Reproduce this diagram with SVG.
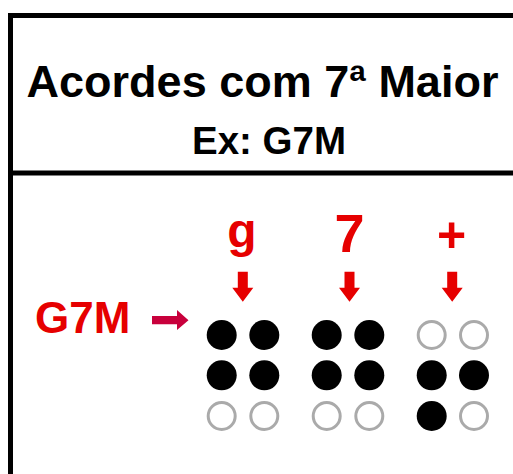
<svg xmlns="http://www.w3.org/2000/svg" width="513" height="474" viewBox="0 0 513 474">
  <defs>
    <style>
      .frame { stroke: #000; stroke-width: 5; fill: none; }
      .title { font-family: "Liberation Sans", Arial, sans-serif; font-weight: bold; fill: #000; }
      .red { font-family: "Liberation Sans", Arial, sans-serif; font-weight: bold; fill: #e60000; }
      .on { fill: #000; }
      .off { fill: #fff; stroke: #aaaaaa; stroke-width: 3; }
      .down { fill: #e60000; }
    </style>
    <g id="downArrow">
      <polygon points="-5,0 5,0 5,16 10.5,16 0,30 -10.5,16 -5,16"/>
    </g>
  </defs>

  <rect x="0" y="0" width="513" height="474" fill="#fff"/>

  <g id="frame">
    <line class="frame" x1="10.5" y1="13" x2="10.5" y2="474"/>
    <line class="frame" x1="8" y1="15.5" x2="513" y2="15.5"/>
    <line class="frame" x1="8" y1="173" x2="513" y2="173"/>
  </g>

  <g id="header">
    <text class="title" x="262.5" y="97" font-size="45" text-anchor="middle">Acordes com 7ª Maior</text>
    <text class="title" x="269" y="154" font-size="38.5" text-anchor="middle">Ex: G7M</text>
  </g>

  <g id="chord-label">
    <text class="red" x="35" y="333" font-size="44">G7M</text>
  </g>

  <g id="labels">
    <text class="red" x="242" y="247" font-size="48" text-anchor="middle">g</text>
    <text class="red" x="349.5" y="251.5" font-size="54" text-anchor="middle">7</text>
    <text class="red" x="451.7" y="252" font-size="50" text-anchor="middle">+</text>
  </g>

  <g id="connectors">
    <polygon fill="#c8003c" points="152,316 177,316 177,310 188.5,320.2 177,330 177,324.3 152,324.3"/>
    <use href="#downArrow" class="down" x="242.8" y="271.7"/>
    <use href="#downArrow" class="down" x="349.5" y="271.7"/>
    <use href="#downArrow" class="down" x="452.2" y="271.7"/>
  </g>

  <g id="cell-g">
    <circle class="on" cx="221.7" cy="335" r="15"/>
    <circle class="on" cx="264.3" cy="335" r="15"/>
    <circle class="on" cx="221.7" cy="375.3" r="15"/>
    <circle class="on" cx="264.3" cy="375.3" r="15"/>
    <circle class="off" cx="221.7" cy="416" r="13.5"/>
    <circle class="off" cx="264.3" cy="416" r="13.5"/>
  </g>

  <g id="cell-7">
    <circle class="on" cx="326.7" cy="335" r="15"/>
    <circle class="on" cx="369.3" cy="335" r="15"/>
    <circle class="on" cx="326.7" cy="375.3" r="15"/>
    <circle class="on" cx="369.3" cy="375.3" r="15"/>
    <circle class="off" cx="326.7" cy="416" r="13.5"/>
    <circle class="off" cx="369.3" cy="416" r="13.5"/>
  </g>

  <g id="cell-plus">
    <circle class="off" cx="431.7" cy="335" r="13.5"/>
    <circle class="off" cx="474" cy="335" r="13.5"/>
    <circle class="on" cx="431.7" cy="375.3" r="15"/>
    <circle class="on" cx="474" cy="375.3" r="15"/>
    <circle class="on" cx="431.7" cy="416" r="15"/>
    <circle class="off" cx="474" cy="416" r="13.5"/>
  </g>
</svg>
